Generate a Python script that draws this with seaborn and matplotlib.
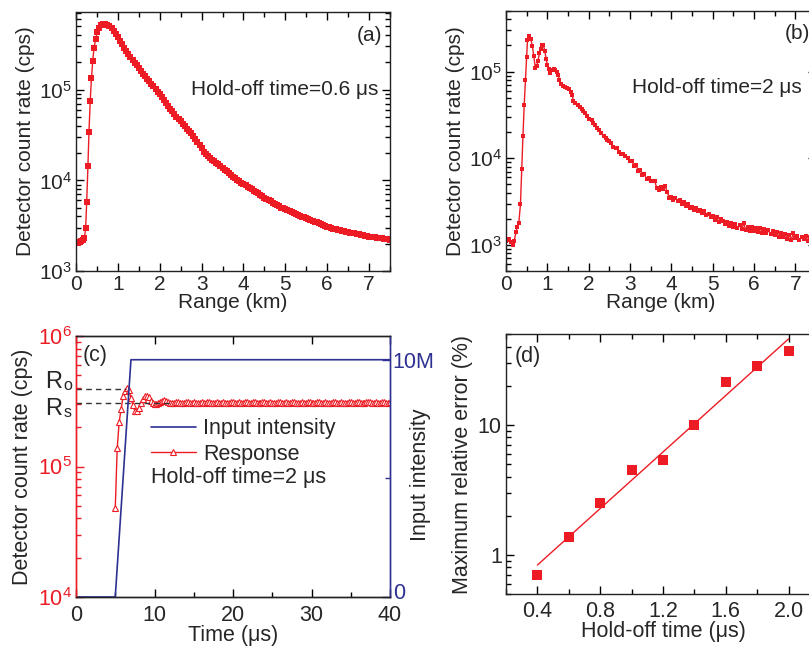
import matplotlib
matplotlib.use("Agg")
import matplotlib.pyplot as plt
import matplotlib.ticker as mticker
import matplotlib.transforms as mtransforms
import numpy as np
import seaborn as sns

sns.set_theme(style="ticks")
plt.rcParams['font.family'] = ['Liberation Sans', 'DejaVu Sans']
plt.rcParams['mathtext.fontset'] = 'custom'
plt.rcParams['mathtext.rm'] = 'Liberation Sans'
plt.rcParams['mathtext.it'] = 'Liberation Sans:italic'
plt.rcParams['mathtext.default'] = 'regular'

RED = "#ED1C24"
BLUE = "#2E3192"

# ---- (a) hold-off 0.6 us: range (km) vs count rate (cps)
a_rise_km = [0.0, 0.05, 0.09, 0.13, 0.17, 0.20, 0.23, 0.255, 0.285, 0.31, 0.34,
             0.37, 0.40, 0.43, 0.47, 0.51, 0.55, 0.60, 0.645, 0.69, 0.73]
a_rise_cps = [2030, 2050, 2100, 2150, 2200, 2300, 2960, 5700, 1.44e4, 3.44e4, 7.6e4,
              1.35e5, 2.1e5, 2.88e5, 3.65e5, 4.3e5, 4.85e5, 5.15e5, 5.35e5, 5.3e5, 5.22e5]
a_tail_km = np.round(np.arange(0.75, 7.5001, 0.05), 2)
a_tail_cps = [
    5.19e5, 5.01e5, 4.75e5, 4.47e5, 4.14e5, 3.80e5, 3.48e5, 3.16e5, 2.90e5, 2.66e5,
    2.47e5, 2.28e5, 2.12e5, 1.98e5, 1.85e5, 1.72e5, 1.60e5, 1.50e5, 1.41e5, 1.32e5,
    1.24e5, 1.16e5, 1.09e5, 1.02e5, 9.55e4, 8.91e4, 8.26e4, 7.64e4, 7.11e4, 6.61e4,
    6.17e4, 5.75e4, 5.38e4, 5.04e4, 4.74e4, 4.47e4, 4.21e4, 3.96e4, 3.73e4, 3.52e4,
    3.30e4, 3.09e4, 2.86e4, 2.64e4, 2.44e4, 2.25e4, 2.08e4, 1.93e4, 1.85e4, 1.77e4,
    1.69e4, 1.63e4, 1.56e4, 1.50e4, 1.43e4, 1.37e4, 1.31e4, 1.26e4, 1.20e4, 1.15e4,
    1.10e4, 1.06e4, 1.02e4, 9.79e3, 9.44e3, 9.12e3, 8.79e3, 8.49e3, 8.22e3, 7.96e3,
    7.69e3, 7.43e3, 7.18e3, 6.92e3, 6.68e3, 6.46e3, 6.24e3, 6.04e3, 5.86e3, 5.69e3,
    5.50e3, 5.31e3, 5.15e3, 5.01e3, 4.90e3, 4.79e3, 4.68e3, 4.57e3, 4.47e3, 4.37e3,
    4.27e3, 4.17e3, 4.07e3, 3.98e3, 3.90e3, 3.84e3, 3.78e3, 3.68e3, 3.59e3, 3.51e3,
    3.44e3, 3.37e3, 3.30e3, 3.24e3, 3.16e3, 3.09e3, 3.03e3, 2.99e3, 2.94e3, 2.89e3,
    2.85e3, 2.81e3, 2.78e3, 2.75e3, 2.72e3, 2.69e3, 2.65e3, 2.62e3, 2.60e3, 2.57e3,
    2.54e3, 2.51e3, 2.48e3, 2.45e3, 2.43e3, 2.40e3, 2.38e3, 2.37e3, 2.35e3, 2.33e3,
    2.31e3, 2.29e3, 2.28e3, 2.26e3, 2.24e3, 2.21e3]

# ---- (b) hold-off 2 us
b_head_km = [0.00, 0.04, 0.08, 0.12, 0.16, 0.20, 0.24, 0.27, 0.31, 0.35, 0.38, 0.41,
             0.44, 0.47, 0.50, 0.52, 0.56, 0.60, 0.64, 0.67, 0.71, 0.74, 0.77, 0.81,
             0.84, 0.87, 0.90, 0.94, 0.97, 1.00, 1.03, 1.07, 1.10, 1.13, 1.16, 1.19,
             1.23, 1.26, 1.29, 1.32, 1.37, 1.42, 1.47, 1.52, 1.57, 1.60, 1.63, 1.68,
             1.73, 1.78, 1.83, 1.87, 1.92, 1.97, 2.02, 2.07, 2.11, 2.16, 2.21, 2.26,
             2.31, 2.36, 2.41, 2.45, 2.50, 2.55, 2.60, 2.65, 2.69, 2.74, 2.79, 2.84,
             2.89, 2.94, 2.99]
b_head_cps = [1.12e3, 1.15e3, 1.17e3, 1.08e3, 1.00e3, 1.12e3, 1.40e3, 1.60e3, 1.79e3,
              2.96e3, 7.6e3, 1.8e4, 4.1e4, 7.9e4, 1.49e5, 2.3e5, 2.6e5, 2.37e5, 1.95e5,
              1.53e5, 1.10e5, 1.15e5, 1.31e5, 1.63e5, 1.80e5, 2.00e5, 2.05e5, 1.72e5,
              1.40e5, 1.20e5, 1.07e5, 9.6e4, 1.03e5, 1.05e5, 1.07e5, 1.05e5, 1.00e5,
              9.2e4, 8.1e4, 7.2e4, 6.8e4, 6.6e4, 6.4e4, 6.3e4, 5.8e4, 5.4e4, 4.6e4,
              4.3e4, 4.1e4, 3.9e4, 3.7e4, 3.5e4, 3.35e4, 3.05e4, 2.87e4, 2.73e4, 2.57e4,
              2.40e4, 2.25e4, 2.10e4, 1.97e4, 1.80e4, 1.73e4, 1.62e4, 1.58e4, 1.49e4,
              1.36e4, 1.32e4, 1.30e4, 1.18e4, 1.12e4, 1.11e4, 1.06e4, 1.01e4, 9.3e3]
b_tail_km = np.round(np.arange(3.05, 7.5001, 0.05), 2)
b_tail_cps = [
    9.2e3, 8.1e3, 8.3e3, 7.2e3, 7.3e3, 6.4e3, 6.5e3, 5.7e3, 5.9e3, 5.5e3,
    5.5e3, 5.4e3, 4.5e3, 4.3e3, 4.6e3, 4.4e3, 4.8e3, 4.1e3, 3.5e3, 3.6e3,
    3.3e3, 3.5e3, 3.2e3, 3.3e3, 2.95e3, 3.1e3, 2.8e3, 2.95e3, 2.7e3, 2.75e3,
    2.5e3, 2.7e3, 2.45e3, 2.55e3, 2.35e3, 2.45e3, 2.2e3, 2.3e3, 2.1e3, 2.15e3,
    1.95e3, 2.08e3, 1.82e3, 2.0e3, 1.9e3, 1.72e3, 1.85e3, 1.66e3, 1.78e3, 1.62e3,
    1.72e3, 1.55e3, 1.68e3, 1.52e3, 1.78e3, 1.48e3, 1.6e3, 1.45e3, 1.62e3, 1.44e3,
    1.58e3, 1.40e3, 1.55e3, 1.38e3, 1.52e3, 1.36e3, 1.47e3, 1.32e3, 1.45e3, 1.30e3,
    1.40e3, 1.25e3, 1.36e3, 1.22e3, 1.32e3, 1.18e3, 1.30e3, 1.15e3, 1.36e3, 1.20e3,
    1.28e3, 1.13e3, 1.25e3, 1.16e3, 1.27e3, 1.12e3, 1.24e3, 1.15e3, 1.22e3, 1.14e3]

# ---- (c) step response
input_t = [0, 5, 7, 40]
input_level = [0, 0, 1e7, 1e7]
resp_t = np.round(np.arange(5.0, 40.001, 0.25), 2)
resp_cps = [
    4.8e4, 1.38e5, 2.2e5, 2.75e5, 3.45e5, 3.8e5, 3.97e5, 3.85e5, 3.35e5, 2.95e5,
    2.65e5, 2.64e5, 2.82e5, 3.05e5, 3.28e5, 3.45e5, 3.47e5, 3.38e5, 3.20e5, 3.07e5,
    3.00e5, 2.99e5, 3.05e5, 3.14e5, 3.20e5, 3.22e5, 3.20e5, 3.14e5, 3.09e5, 3.06e5,
    3.07e5,
    3.10e5, 3.12e5, 3.09e5, 3.06e5, 3.08e5, 3.11e5, 3.10e5, 3.07e5, 3.09e5, 3.12e5,
    3.08e5, 3.06e5, 3.09e5, 3.11e5, 3.07e5, 3.08e5, 3.10e5, 3.12e5, 3.09e5, 3.06e5,
    3.08e5, 3.10e5, 3.07e5, 3.09e5, 3.11e5, 3.08e5, 3.06e5, 3.09e5, 3.12e5, 3.10e5,
    3.07e5, 3.08e5, 3.11e5, 3.09e5, 3.06e5, 3.10e5, 3.13e5, 3.08e5, 3.07e5, 3.10e5,
    3.12e5, 3.09e5, 3.06e5, 3.08e5, 3.11e5, 3.13e5, 3.09e5, 3.07e5, 3.10e5, 3.08e5,
    3.06e5, 3.09e5, 3.12e5, 3.10e5, 3.07e5, 3.09e5, 3.11e5, 3.08e5, 3.06e5, 3.10e5,
    3.13e5, 3.09e5, 3.07e5, 3.08e5, 3.11e5, 3.09e5, 3.06e5, 3.10e5, 3.12e5, 3.08e5,
    3.07e5, 3.09e5, 3.11e5, 3.13e5, 3.09e5, 3.07e5, 3.10e5, 3.08e5, 3.06e5, 3.09e5,
    3.12e5, 3.10e5, 3.07e5, 3.09e5, 3.11e5, 3.08e5, 3.06e5, 3.09e5, 3.13e5, 3.10e5,
    3.08e5, 3.07e5, 3.10e5, 3.12e5, 3.09e5, 3.06e5, 3.08e5, 3.11e5, 3.13e5, 3.10e5,
    3.07e5, 3.09e5, 3.11e5, 3.08e5, 3.06e5, 3.10e5, 3.12e5, 3.09e5, 3.07e5, 3.10e5]
r_o, r_s = 3.95e5, 3.08e5
r_o_end, r_s_end = 6.4, 12.3

# ---- (d) max relative error vs hold-off time
holdoff_us = [0.4, 0.6, 0.8, 1.0, 1.2, 1.4, 1.6, 1.8, 2.0]
max_err_pct = [0.705, 1.38, 2.49, 4.5, 5.37, 10.05, 21.2, 28.6, 37.2]

fig = plt.figure(figsize=(8.09, 6.46), dpi=100)
W, H = 809, 646


def add_ax(l, t, r, b):
    return fig.add_axes([l / W, 1 - b / H, (r - l) / W, (b - t) / H])


def style(ax, fs, mirror=True, xpad=3):
    ax.tick_params(which='both', direction='in', top=mirror, right=mirror,
                   labelsize=fs, width=1, color='black')
    ax.tick_params(which='major', length=6, pad=3)
    ax.tick_params(axis='x', which='major', pad=xpad)
    ax.tick_params(which='minor', length=3.5)
    for s in ax.spines.values():
        s.set_linewidth(1.0)
        s.set_color('#222222')


ax_a = add_ax(76, 12, 390, 271)
ax_b = add_ax(506, 11, 816, 271)
ax_c = add_ax(76, 336, 390, 597)
ax_d = add_ax(506, 334, 820, 594)

FS1 = 15
FS2 = 15.5

# (a)
sns.lineplot(x=list(a_rise_km) + list(a_tail_km), y=a_rise_cps + a_tail_cps, ax=ax_a,
             color=RED, marker='s', markersize=3.8, markeredgewidth=0, lw=1.0)
ax_a.set_yscale('log')
ax_a.set_xlim(0, 7.5)
ax_a.set_ylim(1e3, 7.2e5)
ax_a.xaxis.set_major_locator(mticker.MultipleLocator(1))
ax_a.xaxis.set_minor_locator(mticker.MultipleLocator(0.5))
ax_a.set_xlabel("Range (km)", fontsize=FS1, labelpad=-1)
ax_a.set_ylabel("Detector count rate (cps)", fontsize=FS1, labelpad=3)
ax_a.text(0.975, 0.91, "(a)", transform=ax_a.transAxes, ha='right', va='center', fontsize=FS1)
ax_a.text(0.962, 0.70, "Hold-off time=0.6 μs", transform=ax_a.transAxes, ha='right',
          va='center', fontsize=FS1)
style(ax_a, FS1)

# (b)
sns.lineplot(x=list(b_head_km) + list(b_tail_km), y=b_head_cps + b_tail_cps, ax=ax_b,
             color=RED, marker='s', markersize=2.6, markeredgewidth=0, lw=1.0)
ax_b.set_yscale('log')
ax_b.set_xlim(0, 7.5)
ax_b.set_ylim(5e2, 5e5)
ax_b.xaxis.set_major_locator(mticker.MultipleLocator(1))
ax_b.xaxis.set_minor_locator(mticker.MultipleLocator(0.5))
ax_b.set_xlabel("Range (km)", fontsize=FS1, labelpad=-1)
ax_b.set_ylabel("Detector count rate (cps)", fontsize=FS1, labelpad=3)
ax_b.text(0.90, 0.915, "(b)", transform=ax_b.transAxes, ha='left', va='center', fontsize=FS1)
ax_b.text(0.406, 0.704, "Hold-off time=2 μs", transform=ax_b.transAxes, ha='left',
          va='center', fontsize=FS1)
style(ax_b, FS1)

# (c)
ax_c2 = ax_c.twinx()
sns.lineplot(x=resp_t, y=resp_cps, ax=ax_c, color=RED, marker='^', markersize=4.2,
             markerfacecolor='white', markeredgecolor=RED, markeredgewidth=0.8, lw=1.0)
sns.lineplot(x=input_t, y=input_level, ax=ax_c2, color=BLUE, lw=1.2)
ax_c.plot([0, r_o_end], [r_o, r_o], ls=(0, (4, 3)), color='#333333', lw=1)
ax_c.plot([0, r_s_end], [r_s, r_s], ls=(0, (4, 3)), color='#333333', lw=1)
ax_c.set_yscale('log')
ax_c.set_xlim(0, 40)
ax_c.set_ylim(1e4, 1e6)
ax_c2.set_ylim(0, 1.1e7)
ax_c.xaxis.set_major_locator(mticker.MultipleLocator(10))
ax_c.xaxis.set_minor_locator(mticker.MultipleLocator(5))
ax_c2.yaxis.set_major_locator(mticker.FixedLocator([0, 1e7]))
ax_c2.yaxis.set_minor_locator(mticker.FixedLocator([5e6]))
ax_c2.yaxis.set_major_formatter(mticker.FixedFormatter(["0", "10M"]))
ax_c.set_xlabel("Time (μs)", fontsize=FS2, labelpad=-1)
ax_c.set_ylabel("Detector count rate (cps)", fontsize=FS2)
ax_c.yaxis.set_label_coords(-0.137, 0.5)
ax_c2.set_ylabel("Input intensity", fontsize=FS2)
ax_c2.yaxis.set_label_coords(1.064, 0.47)
style(ax_c, FS2, mirror=False, xpad=6)
ax_c.tick_params(top=True)
ax_c.tick_params(axis='y', which='both', colors=RED)
style(ax_c2, FS2, mirror=False)
ax_c2.tick_params(axis='y', which='both', colors=BLUE, right=True)
ax_c2.tick_params(axis='y', which='major', pad=2)
# nudge the right-hand "0" up a little so it clears the "40" below it
zero_lab = ax_c2.yaxis.get_major_ticks()[0].label2
zero_lab.set_transform(zero_lab.get_transform() +
                       mtransforms.ScaledTranslation(0, 4 / 72, fig.dpi_scale_trans))
ax_c2.spines['left'].set_color(RED)
ax_c2.spines['right'].set_color(BLUE)
ax_c.spines['left'].set_color(RED)
ax_c.spines['right'].set_color(BLUE)
ax_c.text(0.021, 0.927, "(c)", transform=ax_c.transAxes, ha='left', va='center', fontsize=FS2)
# R_o / R_s labels left of the axis
for lev, dy, sub, sdy in [(r_o, 7, "o", 3), (r_s, -6, "s", -10)]:
    ax_c.annotate("R", xy=(0, lev), xycoords=('axes fraction', 'data'),
                  xytext=(-14, dy), textcoords='offset pixels', ha='right', va='center',
                  fontsize=17)
    ax_c.annotate(sub, xy=(0, lev), xycoords=('axes fraction', 'data'),
                  xytext=(-4, sdy), textcoords='offset pixels', ha='right', va='center',
                  fontsize=11.5)
ax_c.text(0.238, 0.456, "Hold-off time=2 μs", transform=ax_c.transAxes, ha='left',
          va='center', fontsize=FS2)
h_in = ax_c2.lines[0]
h_resp = ax_c.lines[0]
ax_c2.legend([h_in, h_resp], ["Input intensity", "Response"], loc='upper left',
             bbox_to_anchor=(0.238, 0.685), frameon=False, fontsize=FS2,
             handlelength=2.1, handletextpad=0.35, labelspacing=0.2,
             borderpad=0, borderaxespad=0)

# (d)
fit = np.polyfit(holdoff_us, np.log10(max_err_pct), 1)
fit_x = [holdoff_us[0], holdoff_us[-1]]
fit_y = [10 ** np.polyval(fit, v) for v in fit_x]
sns.lineplot(x=fit_x, y=fit_y, ax=ax_d, color=RED, lw=1.0)
sns.scatterplot(x=holdoff_us, y=max_err_pct, ax=ax_d, color=RED, marker='s', s=42,
                linewidth=0)
ax_d.set_yscale('log')
ax_d.set_xlim(0.2, 2.2)
ax_d.set_ylim(0.5, 50)
ax_d.xaxis.set_major_locator(mticker.FixedLocator([0.4, 0.8, 1.2, 1.6, 2.0]))
ax_d.xaxis.set_major_formatter(mticker.FormatStrFormatter('%.1f'))
ax_d.xaxis.set_minor_locator(mticker.MultipleLocator(0.2))
ax_d.yaxis.set_major_locator(mticker.FixedLocator([1, 10]))
ax_d.yaxis.set_major_formatter(mticker.FormatStrFormatter('%g'))
ax_d.set_xlabel("Hold-off time (μs)", fontsize=FS2, labelpad=-1)
ax_d.set_ylabel("Maximum relative error (%)", fontsize=FS2)
ax_d.yaxis.set_label_coords(-0.105, 0.5)
ax_d.text(0.029, 0.912, "(d)", transform=ax_d.transAxes, ha='left', va='center', fontsize=FS2)
style(ax_d, FS2, xpad=5)

fig.savefig("out.png", dpi=100)
